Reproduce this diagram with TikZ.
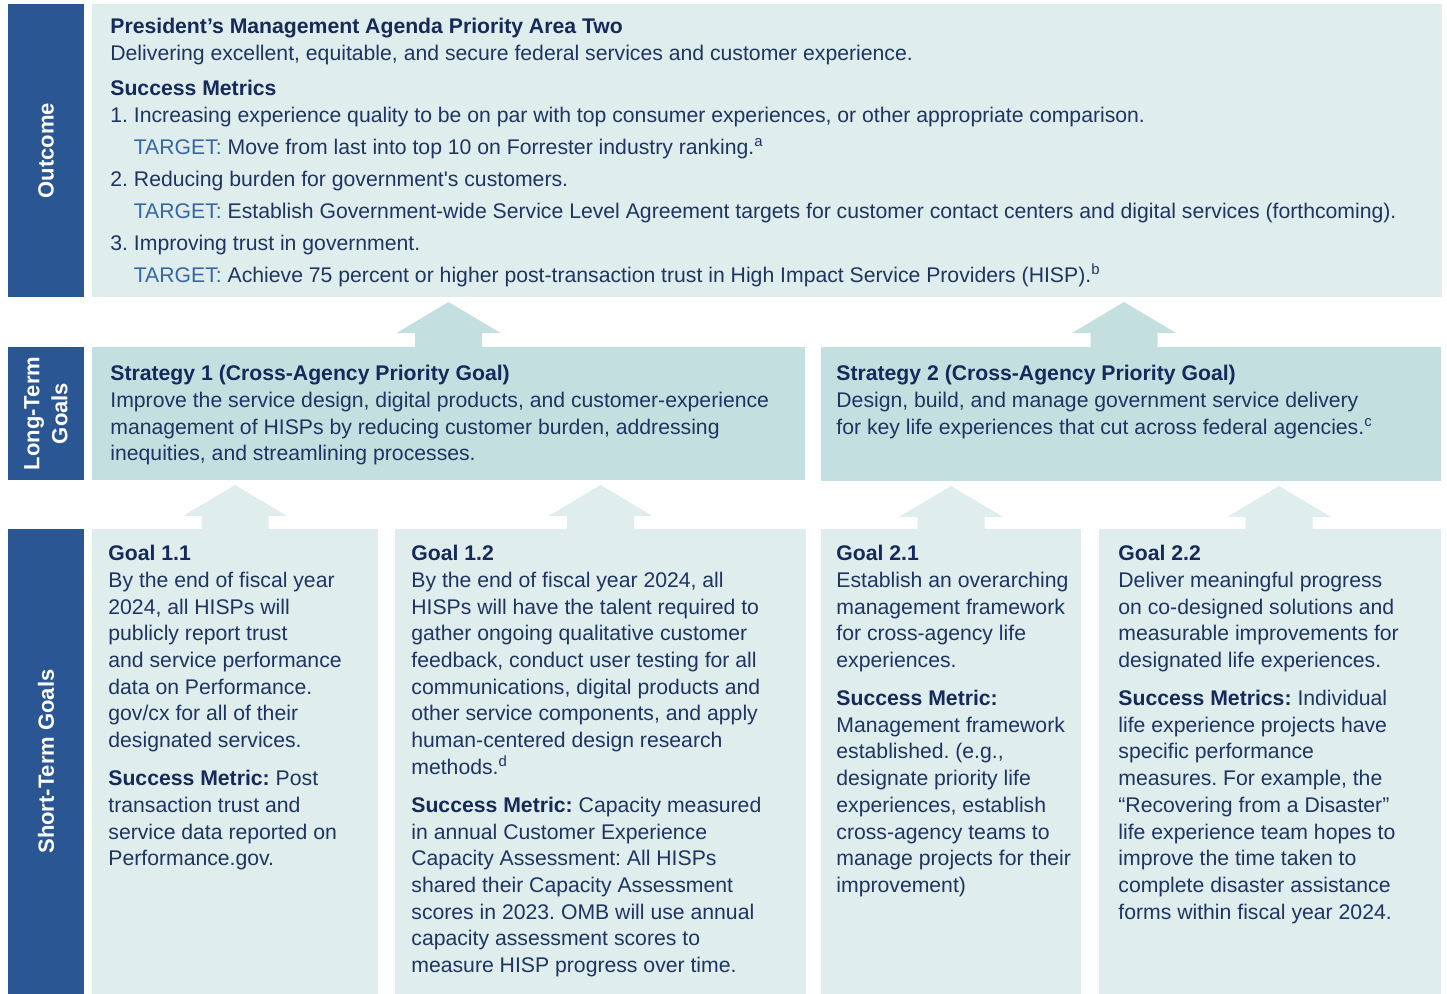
\documentclass[tikz,border=0pt]{standalone}
\usepackage{fontspec}
\setmainfont{Liberation Sans}
\usetikzlibrary{calc}

\definecolor{barblue}{HTML}{2B5694}
\definecolor{paleteal}{HTML}{DFEDED}
\definecolor{midteal}{HTML}{C4DFDF}
\definecolor{headnavy}{HTML}{15295A}
\definecolor{bodynavy}{HTML}{1E3461}
\definecolor{targetblue}{HTML}{3566A5}

\tikzset{
    box/.style={anchor=north west, inner sep=0pt, outer sep=0pt},
    txt/.style={anchor=north west, inner sep=0pt, align=left, text=bodynavy,
        font=\fontsize{10.6pt}{13.35pt}\selectfont\frenchspacing},
    sidelabel/.style={rotate=90, text=white, align=center,
        font=\bfseries\fontsize{11pt}{14pt}\selectfont}
}

\newcommand{\head}[1]{{\bfseries\color{headnavy}#1}}
\newcommand{\tgt}{{\color{targetblue}TARGET:}}
\newcommand{\blockarrow}[3]{%
    \fill[#3] let \p1=(#1), \p2=(#2) in
        (\x1-16.75pt,\y1) -- (\x1-16.75pt,\y2-18pt) -- (\x1-26pt,\y2-18pt) --
        (\x1,\y2-2.5pt) --
        (\x1+26pt,\y2-18pt) -- (\x1+16.75pt,\y2-18pt) -- (\x1+16.75pt,\y1) -- cycle;}

\begin{document}
\begin{tikzpicture}[x=0.5pt, y=-0.5pt]
    \useasboundingbox (0,0) rectangle (1447,994);

    \node[box, fill=barblue, minimum width=38pt, minimum height=146.5pt] (outbar) at (8,4) {};
    \node[box, fill=paleteal, minimum width=675pt, minimum height=146.5pt] (outcome) at (92,4) {};

    \node[box, fill=barblue, minimum width=38pt, minimum height=66.5pt] (ltbar) at (8,347) {};
    \node[box, fill=midteal, minimum width=356.5pt, minimum height=66.5pt] (strat1) at (92,347) {};
    \node[box, fill=midteal, minimum width=310pt, minimum height=67pt] (strat2) at (821,347) {};

    \node[box, fill=barblue, minimum width=38pt, minimum height=232.5pt] (stbar) at (8,529) {};
    \node[box, fill=paleteal, minimum width=143pt, minimum height=232.5pt] (goal11) at (92,529) {};
    \node[box, fill=paleteal, minimum width=205.5pt, minimum height=232.5pt] (goal12) at (395,529) {};
    \node[box, fill=paleteal, minimum width=130pt, minimum height=232.5pt] (goal21) at (821,529) {};
    \node[box, fill=paleteal, minimum width=171pt, minimum height=232.5pt] (goal22) at (1099,529) {};

    \blockarrow{strat1.north}{outcome.south}{midteal}
    \blockarrow{[xshift=-3.5pt]strat2.north}{outcome.south}{midteal}
    \blockarrow{goal11.north}{strat1.south}{paleteal}
    \blockarrow{goal12.north}{strat1.south}{paleteal}
    \blockarrow{goal21.north}{strat2.south}{paleteal}
    \blockarrow{[xshift=4.5pt]goal22.north}{strat2.south}{paleteal}

    \node[sidelabel] (outlabel) at (outbar.center) {Outcome};
    \node[sidelabel] (ltlabel) at (ltbar.center) {Long-Term\\Goals};
    \node[sidelabel] (stlabel) at (stbar.center) {Short-Term Goals};

    \node[txt] (outtext) at (110,18) {%
        \head{President’s Management Agenda Priority Area Two}\\
        Delivering excellent, equitable, and secure federal services and customer experience.\\[4.15pt]
        \head{Success Metrics}\\
        1. Increasing experience quality to be on par with top consumer experiences, or other appropriate comparison.\\[2.65pt]
        \hspace*{11.7pt}\tgt{} Move from last into top 10 on Forrester industry ranking.\textsuperscript{a}\\[2.65pt]
        2. Reducing burden for government\textquotesingle s customers.\\[2.65pt]
        \hspace*{11.7pt}\tgt{} Establish Government-wide Service Level Agreement targets for customer contact centers and digital services (forthcoming).\\[2.65pt]
        3. Improving trust in government.\\[2.65pt]
        \hspace*{11.7pt}\tgt{} Achieve 75 percent or higher post-transaction trust in High Impact Service Providers (HISP).\textsuperscript{b}};

    \node[txt] (strat1text) at (110,365) {%
        \head{Strategy 1 (Cross-Agency Priority Goal)}\\
        Improve the service design, digital products, and customer-experience\\
        management of HISPs by reducing customer burden, addressing\\
        inequities, and streamlining processes.};
    \node[txt] (strat2text) at (836,365) {%
        \head{Strategy 2 (Cross-Agency Priority Goal)}\\
        Design, build, and manage government service delivery\\
        for key life experiences that cut across federal agencies.\textsuperscript{c}};

    \node[txt] (goal11text) at (108,545) {%
        \head{Goal 1.1}\\
        By the end of fiscal year\\
        2024, all HISPs will\\
        publicly report trust\\
        and service performance\\
        data on Performance.\\
        gov/cx for all of their\\
        designated services.\\[5.65pt]
        \head{Success Metric:} Post\\
        transaction trust and\\
        service data reported on\\
        Performance.gov.};
    \node[txt] (goal12text) at (411,545) {%
        \head{Goal 1.2}\\
        By the end of fiscal year 2024, all\\
        HISPs will have the talent required to\\
        gather ongoing qualitative customer\\
        feedback, conduct user testing for all\\
        communications, digital products and\\
        other service components, and apply\\
        human-centered design research\\
        methods.\textsuperscript{d}\\[5.65pt]
        \head{Success Metric:} Capacity measured\\
        in annual Customer Experience\\
        Capacity Assessment: All HISPs\\
        shared their Capacity Assessment\\
        scores in 2023. OMB will use annual\\
        capacity assessment scores to\\
        measure HISP progress over time.};
    \node[txt] (goal21text) at (836,545) {%
        \head{Goal 2.1}\\
        Establish an overarching\\
        management framework\\
        for cross-agency life\\
        experiences.\\[5.65pt]
        \head{Success Metric:}\\
        Management framework\\
        established. (e.g.,\\
        designate priority life\\
        experiences, establish\\
        cross-agency teams to\\
        manage projects for their\\
        improvement)};
    \node[txt] (goal22text) at (1118,545) {%
        \head{Goal 2.2}\\
        Deliver meaningful progress\\
        on co-designed solutions and\\
        measurable improvements for\\
        designated life experiences.\\[5.65pt]
        \head{Success Metrics:} Individual\\
        life experience projects have\\
        specific performance\\
        measures. For example, the\\
        “Recovering from a Disaster”\\
        life experience team hopes to\\
        improve the time taken to\\
        complete disaster assistance\\
        forms within fiscal year 2024.};
\end{tikzpicture}
\end{document}
